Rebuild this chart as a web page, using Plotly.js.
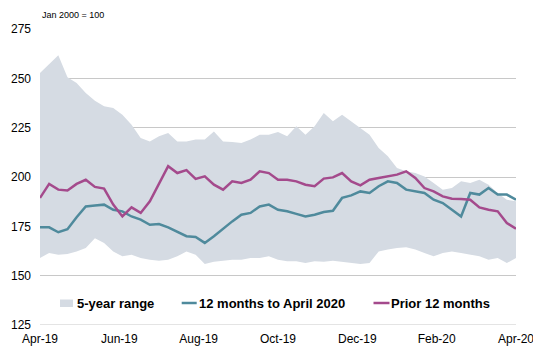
<!DOCTYPE html>
<html>
<head>
<meta charset="utf-8">
<script src="https://cdn.plot.ly/plotly-3.0.1.min.js"></script>
<style>
  html, body { margin: 0; padding: 0; background: #fff; }
  #chart { width: 533px; height: 348px; }
</style>
</head>
<body>
<div id="chart"></div>
<script>
// Weekly observations, Apr-19 (week 0) to Apr-20 (week 52)
var weeks = [];
for (var i = 0; i <= 52; i++) weeks.push(i);

var rangeUpper = [252.7, 257, 261.7, 250.5, 247.6, 242.6, 238.7, 235.8, 235, 231.6, 226.5, 219.8, 218, 220.6, 222.3, 218, 218, 219,
  219, 223.1, 218, 217.7, 217.2, 219, 221.4, 221.4, 222.8, 220.6, 225.7, 221.4, 225.7, 232.4, 228.2, 231.6, 228.2,
  225.2, 221.4, 214.7, 210.5, 204.6, 202.9, 202, 200.3, 197, 193.6, 194.4, 197.8, 197, 198.6, 196.1, 191.9, 188.5, 187.7];

var rangeLower = [159, 161.5, 160.6, 161, 162.3, 164, 169, 166.6, 162.3, 159.8, 160.6, 159, 158.1, 157.6, 158.1, 159.8, 162.3, 160.6,
  155.9, 157, 157.6, 158.1, 158.1, 159, 159, 159.8, 158.1, 157.3, 157.3, 156.4, 157.3, 157, 157.6, 157, 156.4,
  155.9, 156.4, 162.3, 163.2, 164, 164.4, 163.2, 161.5, 159.8, 161.5, 162.3, 161.5, 160.6, 159.8, 158.1, 159, 156.4, 159];

var toApril2020 = [174.5, 174.5, 172, 173.5, 179.6, 185.1, 185.6, 186, 183.4, 182.6, 180, 178.4, 175.8, 176.2, 174.5, 172.2, 170, 169.6,
  166.6, 170, 173.8, 177.5, 180.9, 181.8, 185.1, 186, 183.4, 182.6, 181.3, 180, 180.9, 182.3, 182.9, 189.4, 190.7,
  192.7, 191.9, 195.3, 197.8, 197, 193.6, 192.7, 191.9, 188.5, 186.8, 183.4, 180, 191.9, 191.1, 194.4, 191.1, 191.1, 188.5];

var prior12 = [189.4, 196.5, 193.6, 193.2, 196.5, 198.6, 195, 194.1, 186, 180, 184.6, 181.8, 187.7, 197, 205.5, 202, 203.5, 199,
  200.3, 196.1, 193.6, 197.8, 197, 198.6, 202.9, 202, 198.6, 198.6, 197.8, 196.1, 195.3, 199.2, 199.8, 202, 197.8,
  195.8, 198.6, 199.5, 200.3, 201.2, 202.9, 199.5, 194.4, 192.7, 190.2, 189, 188.9, 188.5, 184.6, 183.4, 182.6, 176.7, 173.8];

var tickLabels = ["Apr-19", "Jun-19", "Aug-19", "Oct-19", "Dec-19", "Feb-20", "Apr-20"];
var tickPos = [0, 52/6, 2*52/6, 3*52/6, 4*52/6, 5*52/6, 52];
var yTicks = [125, 150, 175, 200, 225, 250, 275];

var seriesNames = ["5-year range", "12 months to April 2020", "Prior 12 months"];
var colRange = '#d5dbe3', colBlue = '#4f8a9c', colPurple = '#a44a8c';

var traces = [
  { x: weeks, y: rangeLower, type: 'scatter', mode: 'lines', line: {width: 0, color: colRange},
    showlegend: false, hoverinfo: 'skip' },
  { x: weeks, y: rangeUpper, type: 'scatter', mode: 'lines', fill: 'tonexty', fillcolor: colRange,
    line: {width: 0, color: colRange}, name: seriesNames[0], showlegend: false, hoverinfo: 'skip' },
  { x: weeks, y: toApril2020, type: 'scatter', mode: 'lines', line: {width: 2.5, color: colBlue},
    name: seriesNames[1], showlegend: false },
  { x: weeks, y: prior12, type: 'scatter', mode: 'lines', line: {width: 2.5, color: colPurple},
    name: seriesNames[2], showlegend: false }
];

// legend (paper coordinates: plot area 476 x 296 px, origin at bottom-left)
function px(x) { return (x - 40) / 476; }
function py(y) { return (325.3 - y) / 296; }
var legY = py(303.3);
var legendFont = {size: 13, color: '#000', family: 'Liberation Sans, Arial, sans-serif'};

var shapes = [
  // bottom gridline at 125
  {type: 'line', xref: 'paper', yref: 'y', x0: 0, x1: 1, y0: 125, y1: 125,
   line: {color: '#c8c8c8', width: 1}, layer: 'below'},
  {type: 'rect', xref: 'paper', yref: 'paper', x0: px(60), x1: px(73), y0: py(307.3), y1: py(299.8),
   fillcolor: colRange, line: {width: 0}},
  {type: 'line', xref: 'paper', yref: 'paper', x0: px(181.7), x1: px(196.7), y0: legY, y1: legY,
   line: {color: colBlue, width: 2.5}},
  {type: 'line', xref: 'paper', yref: 'paper', x0: px(373.5), x1: px(389.5), y0: legY, y1: legY,
   line: {color: colPurple, width: 2.5}}
];

var annotations = [
  {text: 'Jan 2000 = 100', xref: 'paper', yref: 'paper', x: 0, y: 1.047, xanchor: 'left',
   yanchor: 'middle', showarrow: false, font: {size: 9, color: '#000'}},
  {text: '<b>' + seriesNames[0] + '</b>', xref: 'paper', yref: 'paper', x: px(75), y: legY,
   xanchor: 'left', yanchor: 'middle', showarrow: false, font: legendFont},
  {text: '<b>' + seriesNames[1] + '</b>', xref: 'paper', yref: 'paper', x: px(197), y: legY,
   xanchor: 'left', yanchor: 'middle', showarrow: false, font: legendFont},
  {text: '<b>' + seriesNames[2] + '</b>', xref: 'paper', yref: 'paper', x: px(389), y: legY,
   xanchor: 'left', yanchor: 'middle', showarrow: false, font: legendFont}
];

var layout = {
  width: 533, height: 348,
  margin: {l: 40, r: 17, t: 29, b: 23, pad: 0},
  paper_bgcolor: '#fff', plot_bgcolor: '#fff',
  font: {family: 'Liberation Sans, Arial, sans-serif', size: 12, color: '#000'},
  showlegend: false,
  xaxis: {range: [0, 52], tickvals: tickPos, ticktext: tickLabels, showgrid: false,
    zeroline: false, showline: false, ticks: '', tickfont: {size: 12},
    ticklabelstandoff: 5, ticklabeloverflow: 'allow'},
  yaxis: {range: [125, 275], tickvals: yTicks, showgrid: true, gridcolor: '#c8c8c8', gridwidth: 1,
    zeroline: false, showline: false, ticks: '', tickfont: {size: 12}, ticklabelstandoff: 8},
  shapes: shapes,
  annotations: annotations
};

Plotly.newPlot('chart', traces, layout, {displayModeBar: false, staticPlot: true});
</script>
</body>
</html>
